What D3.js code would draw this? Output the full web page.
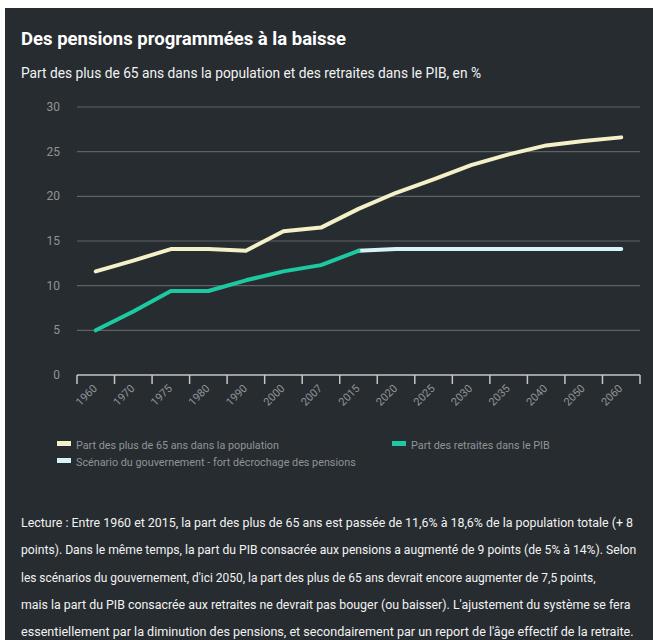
<!DOCTYPE html>
<html>
<head>
<meta charset="utf-8">
<script src="https://cdn.jsdelivr.net/npm/d3@7"></script>
<style>
  html, body { margin: 0; padding: 0; background: #ffffff; }
  svg { display: block; }
  text { font-family: "Roboto", "Liberation Sans", sans-serif; }
</style>
</head>
<body>
<svg id="chart" width="653" height="640"></svg>
<script>
// Part des plus de 65 ans / retraites dans le PIB, en %

const years = ["1960", "1970", "1975", "1980", "1990", "2000", "2007", "2015",
  "2020", "2025", "2030", "2035", "2040", "2050", "2060"];
const population = [11.6, 12.8, 14.1, 14.1, 13.9, 16.1, 16.5, 18.6,
  20.4, 21.9, 23.5, 24.7, 25.7, 26.2, 26.6];
const pibYears = ["1960", "1970", "1975", "1980", "1990", "2000", "2007", "2015"];
const pib = [5.0, 7.1, 9.4, 9.4, 10.6, 11.6, 12.3, 13.9];
const scenarioYears = ["2015", "2020", "2025", "2030", "2035", "2040", "2050", "2060"];
const scenario = [13.9, 14.1, 14.1, 14.1, 14.1, 14.1, 14.1, 14.1];
const yTicks = [0, 5, 10, 15, 20, 25, 30];

const legendItems = [
  { label: "Part des plus de 65 ans dans la population", color: "#f4f0c8", x: 57, y: 444, w: 203 },
  { label: "Part des retraites dans le PIB", color: "#1cc9a0", x: 392, y: 444, w: 139 },
  { label: "Scénario du gouvernement - fort décrochage des pensions", color: "#d6f3f7", x: 57, y: 461, w: 280 },
];

const lecture = [
  "Lecture : Entre 1960 et 2015, la part des plus de 65 ans est passée de 11,6% à 18,6% de la population totale (+ 8",
  "points). Dans le même temps, la part du PIB consacrée aux pensions a augmenté de 9 points (de 5% à 14%). Selon",
  "les scénarios du gouvernement, d'ici 2050, la part des plus de 65 ans devrait encore augmenter de 7,5 points,",
  "mais la part du PIB consacrée aux retraites ne devrait pas bouger (ou baisser). L'ajustement du système se fera",
  "essentiellement par la diminution des pensions, et secondairement par un report de l'âge effectif de la retraite.",
];
const lectureWidths = [612, 616, 575, 610, 613];

const svg = d3.select("#chart");

// shrink the font size until the text fits the width it has in the reference
function fit(sel, w) {
  sel.each(function (d, i) {
    const target = typeof w === "function" ? w(d, i) : w;
    const node = d3.select(this);
    const len = this.getComputedTextLength();
    if (len > target) {
      const fs = parseFloat(node.attr("font-size"));
      node.attr("font-size", (fs * target / len).toFixed(2));
    }
  });
}

svg.append("rect")
  .attr("x", 5).attr("y", 8)
  .attr("width", 648).attr("height", 632)
  .attr("fill", "#272c30");

svg.append("text")
  .attr("x", 21).attr("y", 45)
  .attr("fill", "#ffffff")
  .attr("font-size", 22)
  .attr("font-weight", "bold")
  .text("Des pensions programmées à la baisse")
  .call(fit, 325);

svg.append("text")
  .attr("x", 21).attr("y", 78)
  .attr("fill", "#f2f2f2")
  .attr("font-size", 15.5)
  .text("Part des plus de 65 ans dans la population et des retraites dans le PIB, en %")
  .call(fit, 460);

const margin = { left: 77, right: 13, top: 107, bottom: 265 };
const width = 653 - margin.left - margin.right;
const height = 640 - margin.top - margin.bottom;

const g = svg.append("g").attr("transform", `translate(${margin.left},${margin.top})`);

const x = d3.scaleBand().domain(years).range([0, width]);
const y = d3.scaleLinear().domain([0, 30]).range([height, 0]);
const cx = (d) => x(d) + x.bandwidth() / 2;

// grid
g.selectAll(".grid")
  .data(yTicks.filter((t) => t > 0))
  .join("line")
  .attr("class", "grid")
  .attr("x1", 0).attr("x2", width)
  .attr("y1", (d) => y(d)).attr("y2", (d) => y(d))
  .attr("stroke", "#5d6266")
  .attr("stroke-width", 1.2);

// y labels
g.selectAll(".ylab")
  .data(yTicks)
  .join("text")
  .attr("class", "ylab")
  .attr("x", -17)
  .attr("y", (d) => y(d) + 4)
  .attr("text-anchor", "end")
  .attr("fill", "#8f9498")
  .attr("font-size", 12)
  .text((d) => d);

// x axis: ticks at band edges
const edges = years.map((d) => x(d)).concat([width]);
g.append("line")
  .attr("x1", 0).attr("x2", width)
  .attr("y1", height).attr("y2", height)
  .attr("stroke", "#c4c6c8").attr("stroke-width", 1.5);
g.selectAll(".xtick")
  .data(edges)
  .join("line")
  .attr("class", "xtick")
  .attr("x1", (d) => d).attr("x2", (d) => d)
  .attr("y1", height).attr("y2", height + 9)
  .attr("stroke", "#c4c6c8").attr("stroke-width", 1.5);

g.selectAll(".xlab")
  .data(years)
  .join("text")
  .attr("class", "xlab")
  .attr("transform", (d) => `translate(${cx(d) + 2},${height + 14}) rotate(-45)`)
  .attr("text-anchor", "end")
  .attr("fill", "#8f9498")
  .attr("font-size", 11)
  .text((d) => d);

const line = d3.line().x((d) => cx(d[0])).y((d) => y(d[1]));

function drawSeries(keys, values, color) {
  g.append("path")
    .datum(keys.map((k, i) => [k, values[i]]))
    .attr("d", line)
    .attr("fill", "none")
    .attr("stroke", color)
    .attr("stroke-width", 4)
    .attr("stroke-linecap", "round")
    .attr("stroke-linejoin", "round");
}

drawSeries(scenarioYears, scenario, "#d6f3f7");
drawSeries(pibYears, pib, "#1cc9a0");
drawSeries(years, population, "#f4f0c8");

// legend
const leg = svg.selectAll(".legend")
  .data(legendItems)
  .join("g")
  .attr("class", "legend")
  .attr("transform", (d) => `translate(${d.x},${d.y})`);
leg.append("rect")
  .attr("x", 0).attr("y", -3)
  .attr("width", 14).attr("height", 5)
  .attr("fill", (d) => d.color);
leg.append("text")
  .attr("x", 19).attr("y", 4.5)
  .attr("fill", "#8f9498")
  .attr("font-size", 13)
  .text((d) => d.label)
  .call(fit, (d) => d.w);

// lecture text
svg.selectAll(".lecture")
  .data(lecture)
  .join("text")
  .attr("class", "lecture")
  .attr("x", 21)
  .attr("y", (d, i) => 527 + i * 27.3)
  .attr("fill", "#f2f2f2")
  .attr("font-size", 14.5)
  .text((d) => d)
  .call(fit, (d, i) => lectureWidths[i]);
</script>
</body>
</html>
